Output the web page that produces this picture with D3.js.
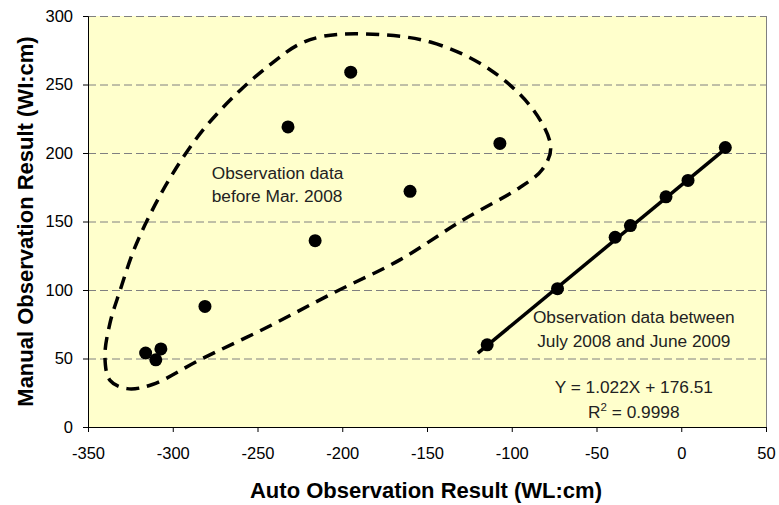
<!DOCTYPE html>
<html>
<head>
<meta charset="utf-8">
<script src="https://cdn.jsdelivr.net/npm/d3@7"></script>
<style>
body { margin: 0; background: #fff; }
text { font-family: "Liberation Sans", Arial, sans-serif; }
</style>
</head>
<body>
<script>
var w = 779;
var h = 505;
var margin = {top: 16, right: 13, bottom: 78, left: 88};

// before Mar. 2008
var oldX = [-195, -232, -216, -107, -160, -281, -316, -307, -310];
var oldY = [259, 219, 136, 207, 172, 88, 54, 57, 49];

// July 2008 - June 2009
var newX = [-114.5, -73, -39, -30, -9, 4, 26];
var newY = [60, 101, 138.5, 147, 168, 180, 204];

// fit line
var slope = 1.022;
var intercept = 176.51;
var fitRange = [-120, 26];

// hand drawn dashed loop round the old data
var loopX = [-188, -148, -113, -87, -77, -82, -95, -129, -166, -205, -244, -284, -312, -327, -337, -340, -337, -331, -323, -313, -300, -282, -260, -241, -226, -212];
var loopY = [287, 281, 261, 231, 204, 188, 175, 151, 122, 98, 73, 49, 31, 28, 34, 51, 76, 100, 129, 156, 185, 217, 246, 266, 279, 285];

var xTicks = [-350, -300, -250, -200, -150, -100, -50, 0, 50];
var yTicks = [0, 50, 100, 150, 200, 250, 300];

var iw = w - margin.left - margin.right;
var ih = h - margin.top - margin.bottom;

var xScale = d3.scaleLinear().domain([-350, 50]).range([0, iw]);
var yScale = d3.scaleLinear().domain([0, 300]).range([ih, 0]);

var svg = d3.select("body")
	.append("svg")
	.attr("width", w)
	.attr("height", h);

var g = svg.append("g")
	.attr("transform", "translate(" + margin.left + "," + margin.top + ")");

g.append("rect")
	.attr("width", iw)
	.attr("height", ih)
	.attr("fill", "#ffffcc");

// grid
g.selectAll(".grid")
	.data(yTicks.slice(1))
	.enter()
	.append("line")
	.attr("x1", 0)
	.attr("x2", iw)
	.attr("y1", function(d){ return yScale(d) + 0.5; })
	.attr("y2", function(d){ return yScale(d) + 0.5; })
	.attr("stroke", "#808080")
	.attr("stroke-width", 1)
	.attr("stroke-dasharray", "8,4");

g.append("line")
	.attr("x1", iw + 0.5).attr("x2", iw + 0.5)
	.attr("y1", 0).attr("y2", ih)
	.attr("stroke", "#808080");

// axes
var fmt = function(d){ return String(d); };
var xAxis = d3.axisBottom(xScale).tickValues(xTicks).tickFormat(fmt).tickSize(5).tickPadding(15);
var yAxis = d3.axisLeft(yScale).tickValues(yTicks).tickFormat(fmt).tickSize(5).tickPadding(10);

var gx = g.append("g")
	.attr("transform", "translate(0," + ih + ")")
	.call(xAxis);
var gy = g.append("g").call(yAxis);

[gx, gy].forEach(function(a){
	a.selectAll("text").attr("font-size", 16.5).attr("fill", "#000")
		.style("font-family", "'Liberation Sans', Arial, sans-serif");
	a.selectAll("path, line").attr("stroke", "#000");
});

// loop
var loopPts = loopX.map(function(x, i){ return [x, loopY[i]]; });
var loopLine = d3.line()
	.x(function(d){ return xScale(d[0]); })
	.y(function(d){ return yScale(d[1]); })
	.curve(d3.curveCatmullRomClosed.alpha(0.5));

g.append("path")
	.attr("d", loopLine(loopPts))
	.attr("fill", "none")
	.attr("stroke", "#000")
	.attr("stroke-width", 3.5)
	.attr("stroke-dasharray", "13,8");

// fit line
g.append("line")
	.attr("x1", xScale(fitRange[0]))
	.attr("y1", yScale(slope * fitRange[0] + intercept))
	.attr("x2", xScale(fitRange[1]))
	.attr("y2", yScale(slope * fitRange[1] + intercept))
	.attr("stroke", "#000")
	.attr("stroke-width", 3.5);

// points
g.selectAll(".old")
	.data(oldX)
	.enter()
	.append("circle")
	.attr("cx", function(d){ return xScale(d); })
	.attr("cy", function(d, i){ return yScale(oldY[i]); })
	.attr("r", 6.5)
	.attr("fill", "#000");

g.selectAll(".new")
	.data(newX)
	.enter()
	.append("circle")
	.attr("cx", function(d){ return xScale(d); })
	.attr("cy", function(d, i){ return yScale(newY[i]); })
	.attr("r", 6.5)
	.attr("fill", "#000");

// annotations
var note1 = g.append("text")
	.attr("x", xScale(-277))
	.attr("y", yScale(181))
	.attr("font-size", 17.3)
	.attr("fill", "#222");
note1.append("tspan").attr("x", xScale(-277)).text("Observation data");
note1.append("tspan").attr("x", xScale(-277)).attr("dy", 23).text("before Mar. 2008");

var note2 = g.append("text")
	.attr("x", xScale(-28))
	.attr("y", yScale(76))
	.attr("text-anchor", "middle")
	.attr("font-size", 17.3)
	.attr("fill", "#222");
note2.append("tspan").attr("x", xScale(-28)).text("Observation data between");
note2.append("tspan").attr("x", xScale(-28)).attr("dy", 24).text("July 2008 and June 2009");

var eq = g.append("text")
	.attr("x", xScale(-28))
	.attr("y", yScale(25))
	.attr("text-anchor", "middle")
	.attr("font-size", 17.3)
	.attr("fill", "#222")
	.text("Y = 1.022X + 176.51");

var r2 = g.append("text")
	.attr("x", xScale(-28))
	.attr("y", yScale(6.5))
	.attr("text-anchor", "middle")
	.attr("font-size", 17.3)
	.attr("fill", "#222");
r2.append("tspan").text("R");
r2.append("tspan").attr("dy", -7).attr("font-size", 11.5).text("2");
r2.append("tspan").attr("dy", 7).text(" = 0.9998");

// axis titles
svg.append("text")
	.attr("x", margin.left + iw / 2 - 1)
	.attr("y", 498)
	.attr("text-anchor", "middle")
	.attr("font-size", 22)
	.attr("font-weight", "bold")
	.text("Auto Observation Result (WL:cm)");

svg.append("text")
	.attr("transform", "translate(33," + (margin.top + ih / 2) + ") rotate(-90)")
	.attr("text-anchor", "middle")
	.attr("font-size", 22)
	.attr("font-weight", "bold")
	.text("Manual Observation Result (WI:cm)");
</script>
</body>
</html>
